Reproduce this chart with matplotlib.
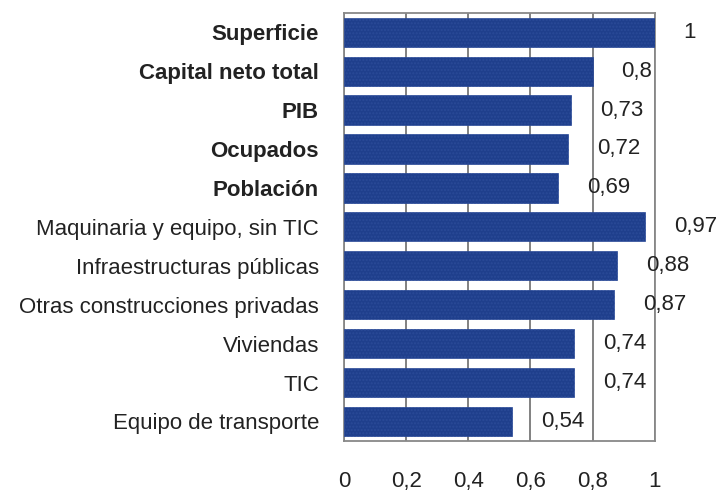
import matplotlib.pyplot as plt

plt.rcParams['font.family'] = ['Liberation Sans', 'DejaVu Sans']

categorias = ['Superficie', 'Capital neto total', 'PIB', 'Ocupados', 'Población',
              'Maquinaria y equipo, sin TIC', 'Infraestructuras públicas',
              'Otras construcciones privadas', 'Viviendas', 'TIC', 'Equipo de transporte']
valores = [1, 0.8, 0.73, 0.72, 0.69, 0.97, 0.88, 0.87, 0.74, 0.74, 0.54]
etiquetas = ['1', '0,8', '0,73', '0,72', '0,69', '0,97', '0,88', '0,87', '0,74', '0,74', '0,54']
negrita = [True, True, True, True, True, False, False, False, False, False, False]
ticks_x = [0, 0.2, 0.4, 0.6, 0.8, 1]
ticks_x_txt = ['0', '0,2', '0,4', '0,6', '0,8', '1']

fig = plt.figure(figsize=(7.21, 4.91), dpi=100)
ax = fig.add_axes([0.477, 0.102, 0.431, 0.872])

y = list(range(len(categorias)))
ax.barh(y, valores, height=0.75, color='#1f3f8c', edgecolor='#2a4a98',
        linewidth=0.5, hatch='.....', zorder=3)
plt.rcParams['hatch.color'] = '#3a5aa8'

for i, (v, t) in enumerate(zip(valores, etiquetas)):
    ax.annotate(t, (v, i), xytext=(29, 0), textcoords='offset pixels',
                ha='left', va='center', fontsize=16, color='#222222',
                annotation_clip=False)

ax.set_xlim(0, 1)
ax.set_ylim(len(categorias) - 0.5, -0.5)
ax.set_yticks(y)
ax.set_yticklabels(categorias, fontsize=16, color='#222222')
for lab, b in zip(ax.get_yticklabels(), negrita):
    if b:
        lab.set_fontweight('bold')
ax.set_xticks(ticks_x)
ax.set_xticklabels(ticks_x_txt, fontsize=16, color='#222222')
ax.tick_params(axis='both', length=0)
ax.tick_params(axis='x', pad=22)
ax.tick_params(axis='y', pad=18)

ax.grid(axis='x', color='#777777', linewidth=1.3, zorder=0)
for s in ax.spines.values():
    s.set_color('#888888')
    s.set_linewidth(1.3)

fig.savefig('out.png', dpi=100)
